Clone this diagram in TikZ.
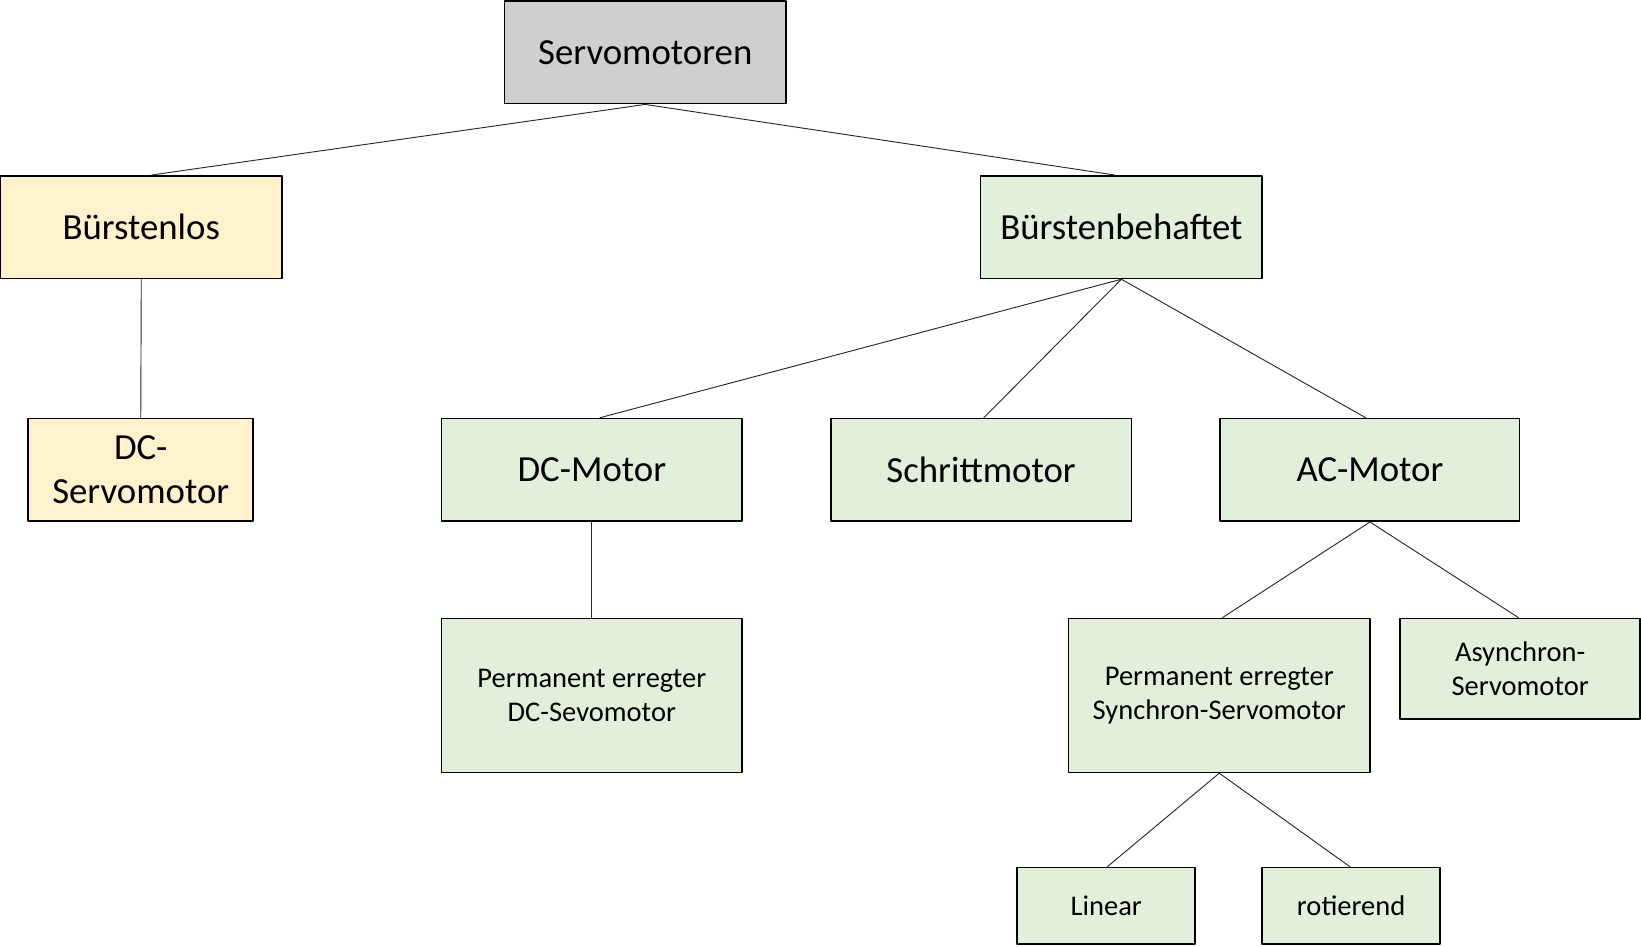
\documentclass[tikz,border=0pt]{standalone}
\usepackage{fontspec}
\setmainfont{Carlito}
\usepackage{xcolor}
\usetikzlibrary{calc}
\definecolor{boxgray}{RGB}{208,206,206}
\definecolor{boxyellow}{RGB}{255,242,204}
\definecolor{boxgreen}{RGB}{226,239,218}

\begin{document}
\begin{tikzpicture}[line join=round,
  box/.style={draw=black,line width=0.9pt,align=center,inner sep=0pt,
    font=\fontsize{20}{24}\selectfont},
  smallbox/.style={box,font=\fontsize{15.5}{18.8}\selectfont},
  link/.style={draw=black!85,line width=0.5pt}]
  \useasboundingbox (0.000,0.000) rectangle (31.360,-18.080);
  \node[box,fill=boxgray,minimum width=5.380cm,minimum height=1.960cm] (servo) at (12.330,-1.000) {Servomotoren};
  \node[box,fill=boxyellow,minimum width=5.380cm,minimum height=1.960cm] (blos) at (2.700,-4.340) {Bürstenlos};
  \node[box,fill=boxgreen,minimum width=5.380cm,minimum height=1.960cm] (bbeh) at (21.430,-4.340) {Bürstenbehaftet};
  \node[box,fill=boxyellow,minimum width=4.300cm,minimum height=1.960cm] (dcservo) at (2.690,-8.980) {DC-\\Servomotor};
  \node[box,fill=boxgreen,minimum width=5.740cm,minimum height=1.960cm] (dcmot) at (11.310,-8.980) {DC-Motor};
  \node[box,fill=boxgreen,minimum width=5.740cm,minimum height=1.960cm] (schritt) at (18.750,-8.980) {Schrittmotor};
  \node[box,fill=boxgreen,minimum width=5.720cm,minimum height=1.960cm] (acmot) at (26.180,-8.980) {AC-Motor};
  \node[smallbox,fill=boxgreen,minimum width=5.740cm,minimum height=2.940cm] (permdc) at (11.310,-13.290) {Permanent erregter\\DC-Sevomotor};
  \node[smallbox,fill=boxgreen,minimum width=5.760cm,minimum height=2.940cm] (permsyn) at (23.300,-13.290) {Permanent erregter\\Synchron-Servomotor};
  \node[smallbox,fill=boxgreen,minimum width=4.580cm,minimum height=1.920cm] (async) at (29.050,-12.780) {Asynchron-\\Servomotor};
  \node[smallbox,fill=boxgreen,minimum width=3.400cm,minimum height=1.460cm] (linear) at (21.140,-17.310) {Linear};
  \node[smallbox,fill=boxgreen,minimum width=3.400cm,minimum height=1.460cm] (rotier) at (25.820,-17.310) {rotierend};
  \draw[link] (servo.south) -- ($(blos.north)+(0.200,0)$);
  \draw[link] (servo.south) -- ($(bbeh.north)+(-0.130,0)$);
  \draw[link] (blos.south) -- (dcservo.north);
  \draw[link] (bbeh.south) -- ($(dcmot.north)+(0.150,0)$);
  \draw[link] (bbeh.south) -- ($(schritt.north)+(0.050,0)$);
  \draw[link] (bbeh.south) -- ($(acmot.north)+(-0.080,0)$);
  \draw[link] (dcmot.south) -- (permdc.north);
  \draw[link] (acmot.south) -- ($(permsyn.north)+(0.060,0)$);
  \draw[link] (acmot.south) -- ($(async.north)+(-0.030,0)$);
  \draw[link] (permsyn.south) -- ($(linear.north)+(0.020,0)$);
  \draw[link] (permsyn.south) -- ($(rotier.north)+(-0.020,0)$);
\end{tikzpicture}
\end{document}
